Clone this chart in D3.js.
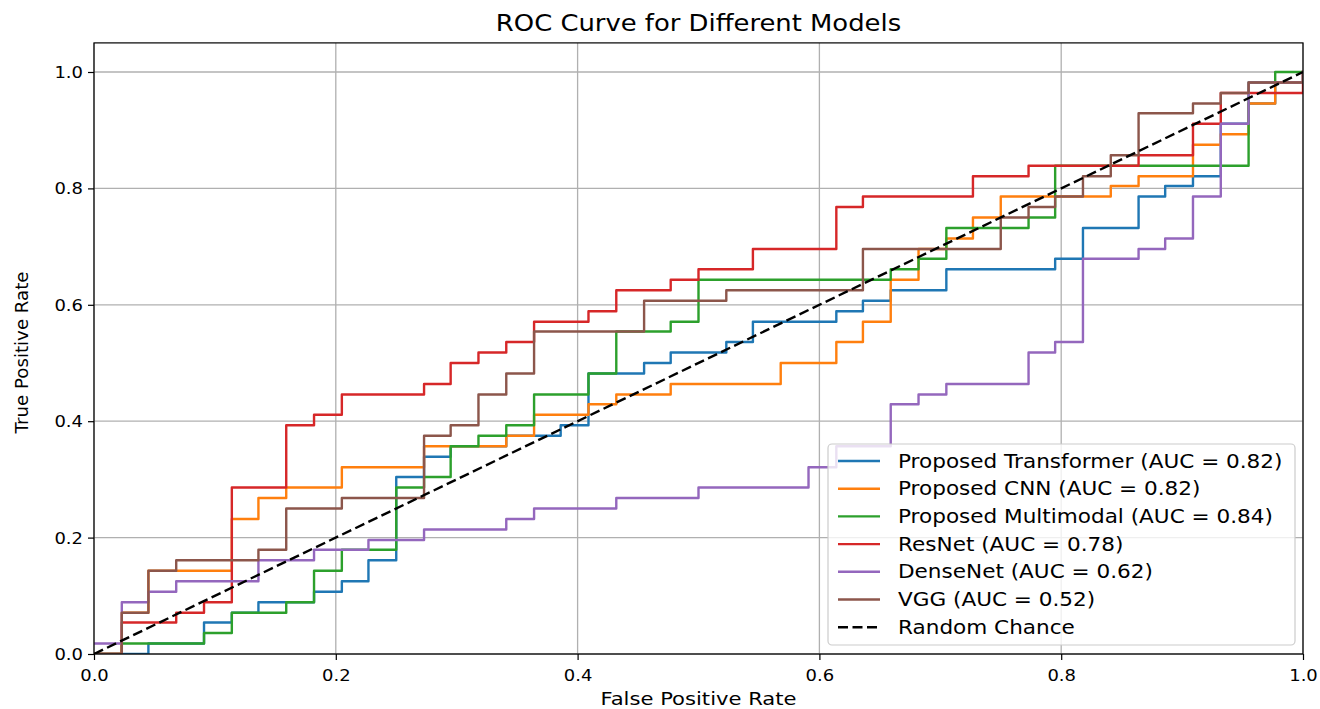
<!DOCTYPE html>
<html><head><meta charset="utf-8">
<script src="https://cdn.jsdelivr.net/npm/d3@7"></script>
<style>body{margin:0;background:#fff}svg{display:block}text{font-family:"DejaVu Sans",sans-serif;fill:#000}</style>
</head><body><svg id="c" width="1320" height="709"></svg>
<script>
// ---------- data ----------
const seriesNames = ["Proposed Transformer (AUC = 0.82)","Proposed CNN (AUC = 0.82)","Proposed Multimodal (AUC = 0.84)","ResNet (AUC = 0.78)","DenseNet (AUC = 0.62)","VGG (AUC = 0.52)"];
const seriesColors = ["#1f77b4","#ff7f0e","#2ca02c","#d62728","#9467bd","#8c564b"];
const chanceLabel = "Random Chance";

const fprTransformer = [0,0.045,0.091,0.114,0.136,0.182,0.205,0.227,0.25,0.273,0.295,0.341,0.386,0.409,0.455,0.477,0.523,0.545,0.614,0.636,0.659,0.705,0.795,0.818,0.864,0.886,0.909,0.932,0.955,0.977,1];
const tprTransformer = [0,0.018,0.054,0.071,0.089,0.107,0.125,0.161,0.304,0.339,0.357,0.375,0.393,0.482,0.5,0.518,0.536,0.571,0.589,0.607,0.625,0.661,0.679,0.732,0.786,0.804,0.821,0.911,0.946,0.982,1];

const fprCNN = [0,0.023,0.045,0.114,0.136,0.159,0.205,0.273,0.341,0.364,0.409,0.432,0.477,0.568,0.614,0.636,0.659,0.682,0.705,0.727,0.75,0.841,0.864,0.909,0.932,0.955,0.977,1];
const tprCNN = [0,0.071,0.143,0.232,0.268,0.286,0.321,0.357,0.375,0.411,0.429,0.446,0.464,0.5,0.536,0.571,0.643,0.696,0.714,0.75,0.786,0.804,0.821,0.875,0.893,0.946,0.982,1];

const fprMultimodal = [0,0.023,0.091,0.114,0.159,0.182,0.205,0.25,0.273,0.295,0.318,0.341,0.364,0.409,0.432,0.477,0.5,0.659,0.682,0.705,0.773,0.795,0.955,0.977,1];
const tprMultimodal = [0,0.018,0.036,0.071,0.089,0.143,0.179,0.286,0.304,0.357,0.375,0.393,0.446,0.482,0.554,0.571,0.643,0.661,0.679,0.732,0.75,0.839,0.982,1,1];

const fprResNet = [0,0.023,0.068,0.091,0.114,0.159,0.182,0.205,0.273,0.295,0.318,0.341,0.364,0.409,0.432,0.477,0.5,0.545,0.614,0.636,0.727,0.773,0.864,0.909,0.932,1];
const tprResNet = [0,0.054,0.071,0.089,0.286,0.393,0.411,0.446,0.464,0.5,0.518,0.536,0.571,0.589,0.625,0.643,0.661,0.696,0.768,0.786,0.821,0.839,0.857,0.911,0.964,1];

const fprDenseNet = [0,0.023,0.045,0.068,0.136,0.182,0.227,0.273,0.341,0.364,0.432,0.5,0.591,0.614,0.659,0.682,0.705,0.773,0.795,0.818,0.864,0.886,0.909,0.932,0.955,1];
const tprDenseNet = [0.018,0.089,0.107,0.125,0.161,0.179,0.196,0.214,0.232,0.25,0.268,0.286,0.321,0.357,0.429,0.446,0.464,0.518,0.536,0.679,0.696,0.714,0.786,0.911,0.982,1];

const fprVGG = [0,0.023,0.045,0.068,0.136,0.159,0.205,0.273,0.295,0.318,0.341,0.364,0.455,0.523,0.636,0.75,0.773,0.795,0.818,0.841,0.864,0.909,0.932,0.955,1];
const tprVGG = [0,0.071,0.143,0.161,0.179,0.25,0.268,0.375,0.393,0.446,0.482,0.554,0.607,0.625,0.696,0.75,0.768,0.786,0.821,0.857,0.929,0.946,0.964,0.982,1];

const chanceFpr = [0,1];
const chanceTpr = [0,1];

const xTicks = [0,0.2,0.4,0.6,0.8,1.0];
const yTicks = [0,0.2,0.4,0.6,0.8,1.0];
const titleText = "ROC Curve for Different Models";
const xLabel = "False Positive Rate";
const yLabel = "True Positive Rate";

// ---------- drawing ----------
const fprs = [fprTransformer,fprCNN,fprMultimodal,fprResNet,fprDenseNet,fprVGG];
const tprs = [tprTransformer,tprCNN,tprMultimodal,tprResNet,tprDenseNet,tprVGG];

const SX = 1.16; // horizontal stretch of the reference text
const svg = d3.select("#c");
const L = 94, R = 1303, B = 654, T = 42.9;
const x = d3.scaleLinear().domain([0,1]).range([L,R]);
const y = d3.scaleLinear().domain([0,1.05]).range([B,T]);

function txt(g, px, py, s, size, anchor, rot) {
  return g.append("text")
    .attr("transform", `translate(${px},${py})` + (rot ? ` rotate(${rot})` : ` scale(${SX},1)`))
    .attr("font-size", size)
    .attr("text-anchor", anchor || "start")
    .text(s);
}

svg.append("defs").append("clipPath").attr("id","clip")
  .append("rect").attr("x",L).attr("y",T).attr("width",R-L).attr("height",B-T);

// grid
const grid = svg.append("g").attr("stroke","#b0b0b0").attr("stroke-width",1.3);
xTicks.forEach(v => grid.append("line").attr("x1",x(v)).attr("x2",x(v)).attr("y1",T).attr("y2",B));
yTicks.forEach(v => grid.append("line").attr("x1",L).attr("x2",R).attr("y1",y(v)).attr("y2",y(v)));

// curves
const line = d3.line().x(d=>x(d[0])).y(d=>y(d[1])).curve(d3.curveStepAfter);
const plot = svg.append("g").attr("clip-path","url(#clip)");
fprs.forEach((f,i) => {
  const pts = f.map((v,k) => [v, tprs[i][k]]);
  plot.append("path").attr("d", line(pts)).attr("fill","none")
    .attr("stroke", seriesColors[i]).attr("stroke-width",2.4)
    .attr("stroke-linejoin","round").attr("stroke-linecap","square");
});
const chanceLine = d3.line().x(d=>x(d[0])).y(d=>y(d[1]));
plot.append("path").attr("d", chanceLine(chanceFpr.map((v,k)=>[v,chanceTpr[k]])))
  .attr("fill","none").attr("stroke","#000").attr("stroke-width",2.4)
  .attr("stroke-dasharray","10,4.5");

// axes frame
svg.append("rect").attr("x",L).attr("y",T).attr("width",R-L).attr("height",B-T)
  .attr("fill","none").attr("stroke","#000").attr("stroke-width",1.2);

// x axis ticks
const xAxis = d3.axisBottom(x).tickValues(xTicks).tickFormat(d3.format(".1f")).tickSize(6);
const gx = svg.append("g").attr("transform",`translate(0,${B})`).call(xAxis);
gx.select(".domain").remove();
gx.selectAll(".tick line").attr("stroke","#000").attr("stroke-width",1.2);
gx.selectAll(".tick").each(function(){
  const tk = d3.select(this);
  const tx = tk.select("text"); const s = tx.text(); tx.remove();
  txt(tk, 0, 27, s, 15.5, "middle");
});

const yAxis = d3.axisLeft(y).tickValues(yTicks).tickFormat(d3.format(".1f")).tickSize(6);
const gy = svg.append("g").attr("transform",`translate(${L},0)`).call(yAxis);
gy.select(".domain").remove();
gy.selectAll(".tick line").attr("stroke","#000").attr("stroke-width",1.2);
gy.selectAll(".tick").each(function(){
  const tk = d3.select(this);
  const tx = tk.select("text"); const s = tx.text(); tx.remove();
  txt(tk, -11, 5.5, s, 15.5, "end");
});

// title & labels
txt(svg, (L+R)/2, 31, titleText, 22.3, "middle");
txt(svg, (L+R)/2, 705, xLabel, 18.2, "middle");
txt(svg, 28, (T+B)/2 + 4, yLabel, 18.2, "middle", -90);

// legend
const lg = svg.append("g");
lg.append("rect").attr("x",828).attr("y",444).attr("width",467).attr("height",201).attr("rx",4)
  .attr("fill","#fff").attr("fill-opacity",0.8).attr("stroke","#cccccc").attr("stroke-width",1.2);
const rowY0 = 461, rowH = 27.7;
const items = seriesNames.map((n,i)=>({n, c: seriesColors[i], dash: null})).concat([{n: chanceLabel, c:"#000", dash:"10,4.5"}]);
items.forEach((it,i)=>{
  const yy = rowY0 + i*rowH;
  const l = lg.append("line").attr("x1",838).attr("x2",880).attr("y1",yy).attr("y2",yy)
    .attr("stroke",it.c).attr("stroke-width",2.4);
  if (it.dash) l.attr("stroke-dasharray", it.dash);
  txt(lg, 898, yy + 6.5, it.n, 18.6, "start");
});
</script></body></html>
